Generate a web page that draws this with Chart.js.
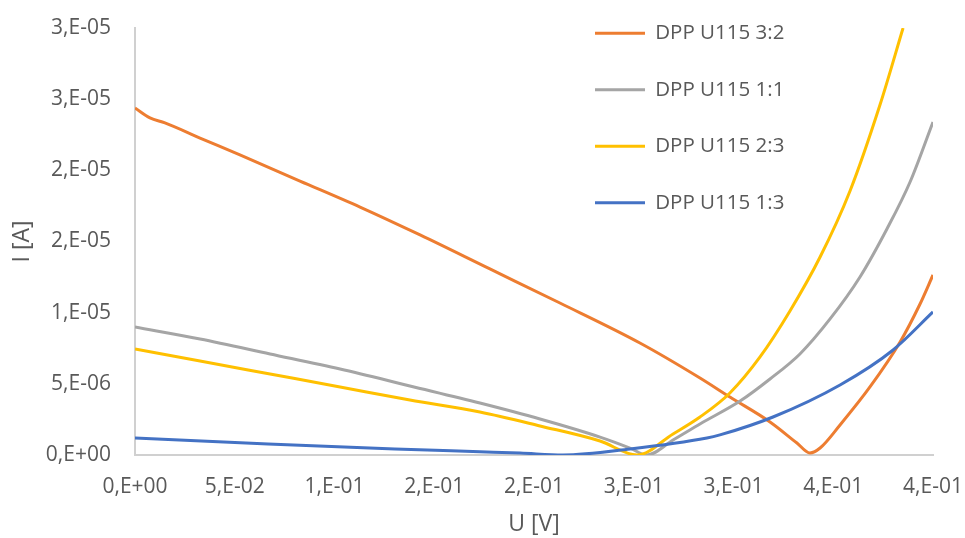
<!DOCTYPE html>
<html>
<head>
<meta charset="utf-8">
<title>DPP U115</title>
<script src="https://cdn.jsdelivr.net/npm/chart.js@4/dist/chart.umd.min.js"></script>
<style>
  html, body { margin: 0; padding: 0; background: #fff; }
  canvas { display: block; }
</style>
</head>
<body>
<canvas id="ivChart" width="965" height="538"></canvas>
<script>
// Series names and colours (Excel palette)
const seriesNames = ['DPP U115 3:2', 'DPP U115 1:1', 'DPP U115 2:3', 'DPP U115 1:3'];
const seriesColors = ['#ED7D31', '#A5A5A5', '#FFC000', '#4472C4'];

// U [V] / I [A] values
const u32 = [0, 0.0075, 0.015, 0.0326, 0.0526, 0.0827, 0.1128, 0.1429, 0.1779, 0.213, 0.2531, 0.2832, 0.2982, 0.3183, 0.3318, 0.3383, 0.3434, 0.3534, 0.3684, 0.3835, 0.3935, 0.4];
const i32 = [2.438e-5, 2.368e-5, 2.333e-5, 2.227e-5, 2.108e-5, 1.925e-5, 1.742e-5, 1.546e-5, 1.307e-5, 1.068e-5, 7.87e-6, 5.41e-6, 4.07e-6, 2.32e-6, 8.4e-7, 1.4e-7, 4.9e-7, 2.11e-6, 4.78e-6, 7.94e-6, 1.061e-5, 1.265e-5];

const u11 = [0, 0.0326, 0.0677, 0.1028, 0.1378, 0.1729, 0.203, 0.2331, 0.2481, 0.2566, 0.2697, 0.2832, 0.3033, 0.3183, 0.3333, 0.3484, 0.3634, 0.3769, 0.3885, 0.4];
const i11 = [8.99e-6, 8.15e-6, 7.10e-6, 6.04e-6, 4.85e-6, 3.65e-6, 2.53e-6, 1.26e-6, 4.9e-7, 0, 1.05e-6, 2.18e-6, 3.79e-6, 5.34e-6, 7.10e-6, 9.56e-6, 1.251e-5, 1.588e-5, 1.918e-5, 2.340e-5];

const u23 = [0, 0.0326, 0.0677, 0.1028, 0.1378, 0.1729, 0.203, 0.2331, 0.2516, 0.2697, 0.2832, 0.2982, 0.3133, 0.3283, 0.3434, 0.3584, 0.3734, 0.385];
const i23 = [7.45e-6, 6.60e-6, 5.69e-6, 4.78e-6, 3.86e-6, 3.02e-6, 2.04e-6, 9.8e-7, 0, 1.48e-6, 2.67e-6, 4.36e-6, 6.89e-6, 1.012e-5, 1.391e-5, 1.855e-5, 2.459e-5, 3.0e-5];

const u13 = [0, 0.0667, 0.1303, 0.1729, 0.193, 0.2145, 0.2481, 0.2867, 0.2932, 0.3198, 0.3534, 0.38, 0.4];
const i13 = [1.19e-6, 7.7e-7, 4.2e-7, 2.3e-7, 1.4e-7, 0, 4.2e-7, 1.19e-6, 1.41e-6, 2.67e-6, 4.92e-6, 7.38e-6, 1.005e-5];

// Axis ticks, with the labels exactly as Excel prints them (0.E+00 format)
const xTickValues = [0, 0.05, 0.1, 0.15, 0.2, 0.25, 0.3, 0.35, 0.4];
const xTickLabels = ['0,E+00', '5,E-02', '1,E-01', '2,E-01', '2,E-01', '3,E-01', '3,E-01', '4,E-01', '4,E-01'];
const yTickValues = [0, 5e-6, 1e-5, 1.5e-5, 2e-5, 2.5e-5, 3e-5];
const yTickLabels = ['0,E+00', '5,E-06', '1,E-05', '2,E-05', '2,E-05', '3,E-05', '3,E-05'];

const textColor = '#595959';
const axisColor = '#D0D0D0';
const font = 'Open Sans';

function toPoints(us, is) {
  return us.map((u, k) => ({ x: u, y: is[k] }));
}

const seriesData = [toPoints(u32, i32), toPoints(u11, i11), toPoints(u23, i23), toPoints(u13, i13)];

const datasets = seriesNames.map((name, k) => ({
  label: name,
  data: seriesData[k],
  borderColor: seriesColors[k],
  backgroundColor: seriesColors[k],
  borderWidth: 3,
  pointRadius: 0,
  fill: false,
  cubicInterpolationMode: 'monotone',
  // last series on top, like Excel
  order: seriesNames.length - k
}));

// Put the vertical legend inside the plot, top right
const legendPlacer = {
  id: 'legendPlacer',
  afterLayout(chart) {
    const lg = chart.legend;
    if (!lg) return;
    lg.left = 559;
    lg.top = -13;
    lg.right = chart.chartArea.right;
    lg.bottom = chart.chartArea.bottom;
  }
};

new Chart(document.getElementById('ivChart'), {
  type: 'line',
  data: { datasets: datasets },
  plugins: [legendPlacer],
  options: {
    responsive: false,
    animation: false,
    layout: { padding: { top: 28, right: 32, bottom: 0, left: 0 } },
    plugins: {
      tooltip: { enabled: false },
      legend: {
        position: 'chartArea',
        align: 'start',
        labels: {
          usePointStyle: true,
          pointStyle: 'line',
          pointStyleWidth: 50,
          padding: 36,
          color: textColor,
          font: { family: font, size: 20.5, lineHeight: 1 },
          sort: (a, b) => a.datasetIndex - b.datasetIndex
        }
      }
    },
    scales: {
      x: {
        type: 'linear',
        min: 0,
        max: 0.4,
        grid: { display: false, drawTicks: false },
        border: { display: true, color: axisColor, width: 2 },
        afterBuildTicks: scale => { scale.ticks = xTickValues.map(v => ({ value: v })); },
        afterFit: scale => {
          scale.height = 83;
          scale.paddingLeft = 0;
          scale.paddingRight = 0;
        },
        ticks: {
          autoSkip: false,
          maxRotation: 0,
          padding: 19,
          color: textColor,
          font: { family: font, size: 21 },
          callback: (value, index) => xTickLabels[index]
        },
        title: {
          display: true,
          text: 'U [V]',
          color: textColor,
          font: { family: font, size: 23 },
          padding: { top: 0, bottom: 0 }
        }
      },
      y: {
        type: 'linear',
        min: 0,
        max: 3e-5,
        grid: { display: false, drawTicks: false },
        border: { display: true, color: axisColor, width: 2 },
        afterBuildTicks: scale => { scale.ticks = yTickValues.map(v => ({ value: v })); },
        afterFit: scale => {
          scale.width = 135;
          scale.paddingTop = 0;
          scale.paddingBottom = 0;
        },
        ticks: {
          padding: 24,
          color: textColor,
          font: { family: font, size: 21 },
          callback: (value, index) => yTickLabels[index]
        },
        title: {
          display: true,
          text: 'I [A]',
          color: textColor,
          font: { family: font, size: 23 },
          padding: { top: 9, bottom: 0 }
        }
      }
    }
  }
});
</script>
</body>
</html>
